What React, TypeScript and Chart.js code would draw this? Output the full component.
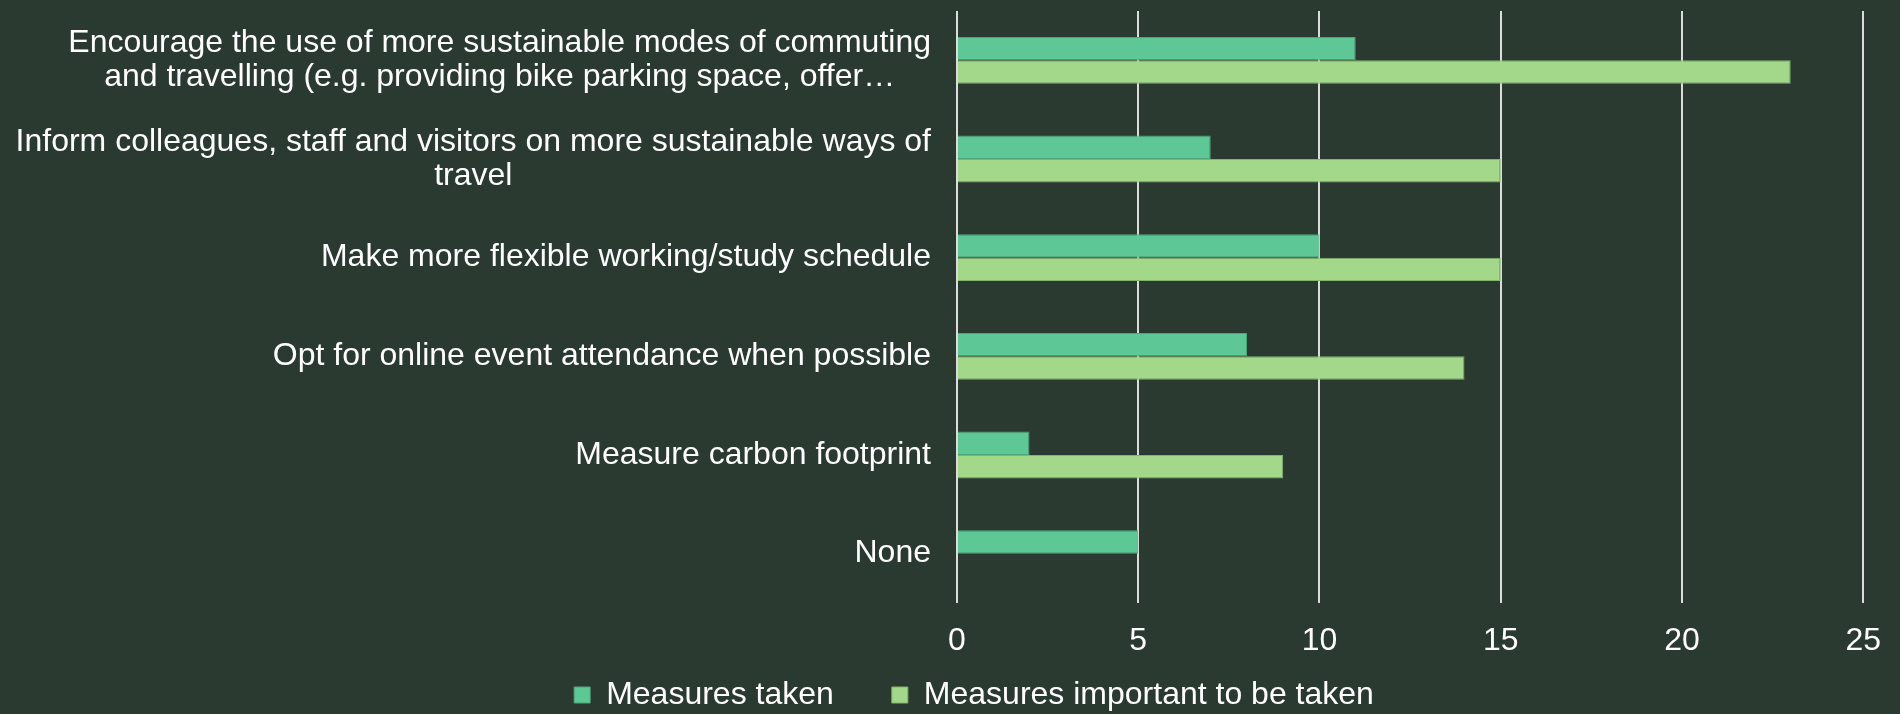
import React, { useEffect, useRef } from 'react';
import { Chart, registerables } from 'chart.js';

Chart.register(...registerables);

// ---- data ----
const categories: string[][] = [
  ['Encourage the use of more sustainable modes of commuting', 'and travelling (e.g. providing bike parking space, offer…'],
  ['Inform colleagues, staff and visitors on more sustainable ways of', 'travel'],
  ['Make more flexible working/study schedule'],
  ['Opt for online event attendance when possible'],
  ['Measure carbon footprint'],
  ['None'],
];
const seriesNames = ['Measures taken', 'Measures important to be taken'];
const measuresTaken = [11, 7, 10, 8, 2, 5];
const measuresImportant = [23, 15, 15, 14, 9, 0];
const xMin = 0;
const xMax = 25;
const xStep = 5;

// ---- style ----
const BG = '#2b3a31';
const TAKEN = '#5dc896';
const TAKEN_BORDER = '#4fa67c';
const IMPORTANT = '#a3d88b';
const IMPORTANT_BORDER = '#80b56c';
const GRID = '#dcdcdc';
const FONT = '"Liberation Sans", Arial, sans-serif';
const FS = 32;
const LH = 34;
const LEGEND_PAD = 58;

const labelPlugin = {
  id: 'catLabels',
  afterLayout(chart: any) {
    // let the x tick labels extend below the (thin) axis box
    const xs = chart.scales.x;
    if (xs) xs.bottom = chart.height;
  },
  afterDraw(chart: any) {
    const ctx = chart.ctx;
    const yScale = chart.scales.y;
    ctx.save();
    ctx.font = `${FS}px ${FONT}`;
    ctx.fillStyle = '#ffffff';
    ctx.textAlign = 'center';
    ctx.textBaseline = 'middle';
    const rightX = chart.chartArea.left - 26;
    categories.forEach((lines, i) => {
      const cy = yScale.getPixelForTick(i);
      const w = Math.max(...lines.map((l) => ctx.measureText(l).width));
      const cx = rightX - w / 2;
      lines.forEach((l, j) => {
        ctx.fillText(l, cx, cy + (j - (lines.length - 1) / 2) * LH);
      });
    });
    ctx.restore();
  },
};

export default function App() {
  const ref = useRef<HTMLCanvasElement | null>(null);

  useEffect(() => {
    document.body.style.margin = '0';
    const canvas = ref.current;
    if (!canvas) return;
    const chart = new Chart(canvas, {
      type: 'bar',
      data: {
        labels: categories.map((l) => l.join(' ')),
        datasets: [
          {
            label: seriesNames[0],
            data: measuresTaken,
            backgroundColor: TAKEN,
            borderColor: TAKEN_BORDER,
            borderWidth: 1,
            barPercentage: 1,
            categoryPercentage: 0.475,
          },
          {
            label: seriesNames[1],
            data: measuresImportant,
            backgroundColor: IMPORTANT,
            borderColor: IMPORTANT_BORDER,
            borderWidth: 1,
            barPercentage: 1,
            categoryPercentage: 0.475,
          },
        ],
      },
      options: {
        indexAxis: 'y',
        animation: false,
        responsive: false,
        maintainAspectRatio: false,
        layout: { padding: { top: 11, right: 26, left: 74, bottom: 0 } },
        plugins: {
          tooltip: { enabled: false },
          legend: {
            position: 'bottom',
            maxHeight: FS + LEGEND_PAD + 3,
            labels: {
              color: '#ffffff',
              font: { family: FONT, size: FS },
              boxWidth: 16,
              boxHeight: 16,
              padding: LEGEND_PAD,
            },
          },
        },
        scales: {
          x: {
            position: 'bottom',
            min: xMin,
            max: xMax,
            ticks: {
              stepSize: xStep,
              color: '#ffffff',
              font: { family: FONT, size: FS },
              padding: 19,
            },
            grid: { color: GRID, lineWidth: 2, drawTicks: false },
            border: { display: false },
            afterFit: (scale: any) => {
              scale.height = 18;
            },
          },
          y: {
            ticks: { display: false },
            grid: { display: false },
            border: { display: false },
            afterFit: (scale: any) => {
              scale.width = 883;
            },
          },
        },
      },
      plugins: [labelPlugin],
    });
    return () => chart.destroy();
  }, []);

  return (
    <div style={{ position: 'fixed', left: 0, top: 0, width: 1900, height: 714, background: BG }}>
      <canvas ref={ref} width={1900} height={714} style={{ width: 1900, height: 714, display: 'block' }} />
    </div>
  );
}
